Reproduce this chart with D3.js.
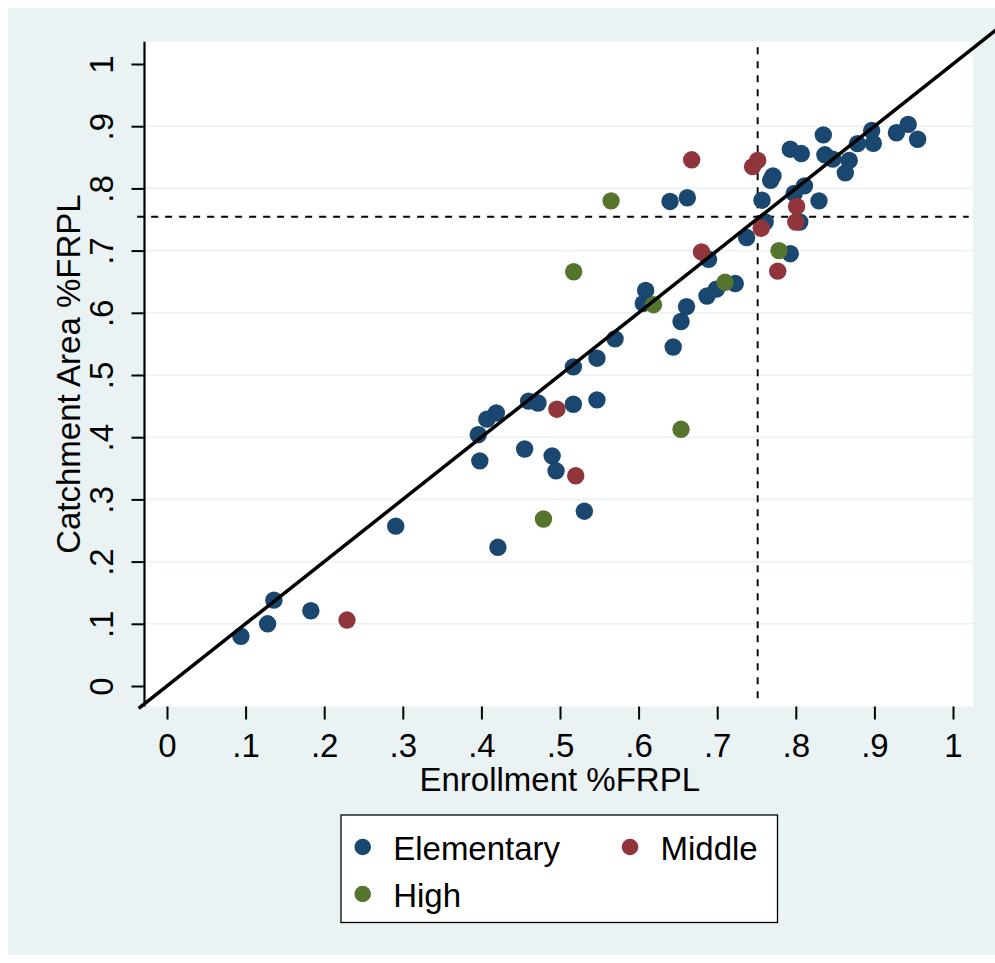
<!DOCTYPE html>
<html>
<head>
<meta charset="utf-8">
<script src="https://cdn.jsdelivr.net/npm/d3@7"></script>
<style>
  html, body { margin: 0; padding: 0; background: #ffffff; }
  svg { display: block; }
  text { font-family: "Liberation Sans", Arial, sans-serif; fill: #000; }
</style>
</head>
<body>
<div id="chart"></div>
<script>
// School-level share of free/reduced-price lunch: enrolled students vs. catchment area
const categories = ["Elementary", "Middle", "High"];
const colors = ["#1a476f", "#90353b", "#55752f"];

// [enrollment %FRPL, catchment area %FRPL]
const elementary = [
  [0.094, 0.080], [0.128, 0.100], [0.136, 0.138], [0.183, 0.121], [0.291, 0.257],
  [0.396, 0.404], [0.398, 0.362], [0.407, 0.429], [0.419, 0.439], [0.421, 0.223],
  [0.455, 0.381], [0.460, 0.458], [0.472, 0.455], [0.490, 0.370], [0.495, 0.346],
  [0.517, 0.513], [0.517, 0.453], [0.531, 0.281], [0.547, 0.527], [0.547, 0.460],
  [0.570, 0.558], [0.606, 0.615], [0.609, 0.636], [0.644, 0.545], [0.654, 0.586],
  [0.661, 0.610], [0.640, 0.779], [0.662, 0.785], [0.687, 0.627], [0.689, 0.686],
  [0.699, 0.638], [0.723, 0.647], [0.7375, 0.721], [0.757, 0.781], [0.761, 0.746],
  [0.768, 0.813], [0.771, 0.820], [0.793, 0.695], [0.793, 0.863], [0.805, 0.746],
  [0.807, 0.856], [0.798, 0.792], [0.811, 0.804], [0.8295, 0.780], [0.835, 0.886],
  [0.837, 0.854], [0.847, 0.847], [0.863, 0.825], [0.868, 0.845], [0.8785, 0.872],
  [0.8965, 0.893], [0.8986, 0.8725], [0.928, 0.8895], [0.943, 0.903], [0.955, 0.879]
];
const middle = [
  [0.229, 0.106], [0.496, 0.445], [0.520, 0.338], [0.6675, 0.846], [0.680, 0.698],
  [0.745, 0.835], [0.7515, 0.845], [0.756, 0.736], [0.777, 0.667], [0.800, 0.746],
  [0.801, 0.771]
];
const high = [
  [0.479, 0.2685], [0.5174, 0.666], [0.565, 0.780], [0.619, 0.613], [0.654, 0.4127],
  [0.710, 0.649], [0.7786, 0.700]
];
const series = [elementary, middle, high];

// Reference lines: mean enrollment %FRPL (vertical) and mean catchment %FRPL (horizontal)
const meanEnrollment = 0.7515;
const meanCatchment = 0.7545;

const tickValues = [0, 0.1, 0.2, 0.3, 0.4, 0.5, 0.6, 0.7, 0.8, 0.9, 1];
const tickLabels = ["0", ".1", ".2", ".3", ".4", ".5", ".6", ".7", ".8", ".9", "1"];
const xTitle = "Enrollment %FRPL";
const yTitle = "Catchment Area %FRPL";

const W = 995, H = 963;
const plot = { left: 144.5, right: 973, top: 41.7, bottom: 706.5 };

const x = d3.scaleLinear().domain([0, 1]).range([167, 953]);
const y = d3.scaleLinear().domain([0, 1]).range([686, 64]);

const svg = d3.select("#chart").append("svg").attr("width", W).attr("height", H);

// Graph region background
svg.append("rect").attr("x", 8).attr("y", 8).attr("width", W - 8).attr("height", 947)
  .attr("fill", "#eaf2f3");

// Plot region
svg.append("rect")
  .attr("x", plot.left).attr("y", plot.top)
  .attr("width", plot.right - plot.left).attr("height", plot.bottom - plot.top)
  .attr("fill", "#ffffff");

// Horizontal grid lines (interior ticks only)
svg.append("g").selectAll("line")
  .data(tickValues.filter(v => v > 0 && v < 1))
  .join("line")
  .attr("x1", plot.left).attr("x2", plot.right)
  .attr("y1", d => y(d)).attr("y2", d => y(d))
  .attr("stroke", "#eaf2f3").attr("stroke-width", 1.6);

// Y axis
const yAxis = d3.axisLeft(y).tickValues(tickValues)
  .tickFormat((d, i) => tickLabels[i]).tickSize(13).tickSizeOuter(0);
const gy = svg.append("g").attr("transform", `translate(${plot.left},0)`).call(yAxis);
gy.select(".domain").remove();
gy.selectAll(".tick line").attr("stroke", "#000").attr("stroke-width", 2);
gy.selectAll(".tick text")
  .attr("transform", "rotate(-90)")
  .attr("x", 0).attr("y", -32).attr("dy", null)
  .attr("text-anchor", "middle")
  .style("font-size", "33px").style("font-family", "'Liberation Sans', Arial, sans-serif");
svg.append("line")
  .attr("x1", plot.left).attr("x2", plot.left)
  .attr("y1", plot.top).attr("y2", plot.bottom)
  .attr("stroke", "#000").attr("stroke-width", 2.2);

// X axis
const xAxis = d3.axisBottom(x).tickValues(tickValues)
  .tickFormat((d, i) => tickLabels[i]).tickSize(13).tickSizeOuter(0);
const gx = svg.append("g").attr("transform", `translate(0,${plot.bottom})`).call(xAxis);
gx.select(".domain").remove();
gx.selectAll(".tick line").attr("stroke", "#000").attr("stroke-width", 2);
gx.selectAll(".tick text")
  .attr("y", 50).attr("dy", null)
  .style("font-size", "33px").style("font-family", "'Liberation Sans', Arial, sans-serif");

// Axis titles
svg.append("text")
  .attr("x", (plot.left + plot.right) / 2 + 1).attr("y", 791)
  .attr("text-anchor", "middle").style("font-size", "33px")
  .text(xTitle);
svg.append("text")
  .attr("transform", `translate(80,${(plot.top + plot.bottom) / 2}) rotate(-90)`)
  .attr("text-anchor", "middle").style("font-size", "33px")
  .text(yTitle);

// Mean reference lines
svg.append("line")
  .attr("x1", x(-0.038)).attr("x2", x(1.02))
  .attr("y1", y(meanCatchment)).attr("y2", y(meanCatchment))
  .attr("stroke", "#000").attr("stroke-width", 1.9).attr("stroke-dasharray", "7,7");
svg.append("line")
  .attr("x1", x(meanEnrollment)).attr("x2", x(meanEnrollment))
  .attr("y1", y(1.027)).attr("y2", y(-0.03))
  .attr("stroke", "#000").attr("stroke-width", 1.9).attr("stroke-dasharray", "7,7");

// Markers, one layer per school level
const marks = svg.append("g");
series.forEach((pts, i) => {
  marks.append("g").selectAll("circle")
    .data(pts)
    .join("circle")
    .attr("cx", d => x(d[0]))
    .attr("cy", d => y(d[1]))
    .attr("r", 8.7)
    .attr("fill", colors[i]);
});

// 45-degree line (catchment = enrollment)
svg.append("line")
  .attr("x1", x(-0.036)).attr("y1", y(-0.036))
  .attr("x2", x(1.12)).attr("y2", y(1.12))
  .attr("stroke", "#000").attr("stroke-width", 3.5);

// Legend
const legend = svg.append("g");
legend.append("rect")
  .attr("x", 341).attr("y", 815).attr("width", 436.5).attr("height", 107.5)
  .attr("fill", "#ffffff").attr("stroke", "#000").attr("stroke-width", 1.3);
const legendPos = [[362.7, 847], [630, 847], [362.7, 894]];
categories.forEach((c, i) => {
  const [lx, ly] = legendPos[i];
  legend.append("circle").attr("cx", lx).attr("cy", ly).attr("r", 8.3).attr("fill", colors[i]);
  legend.append("text").attr("x", lx + 30.5).attr("y", ly + 12.5)
    .style("font-size", "33px").text(c);
});
</script>
</body>
</html>
